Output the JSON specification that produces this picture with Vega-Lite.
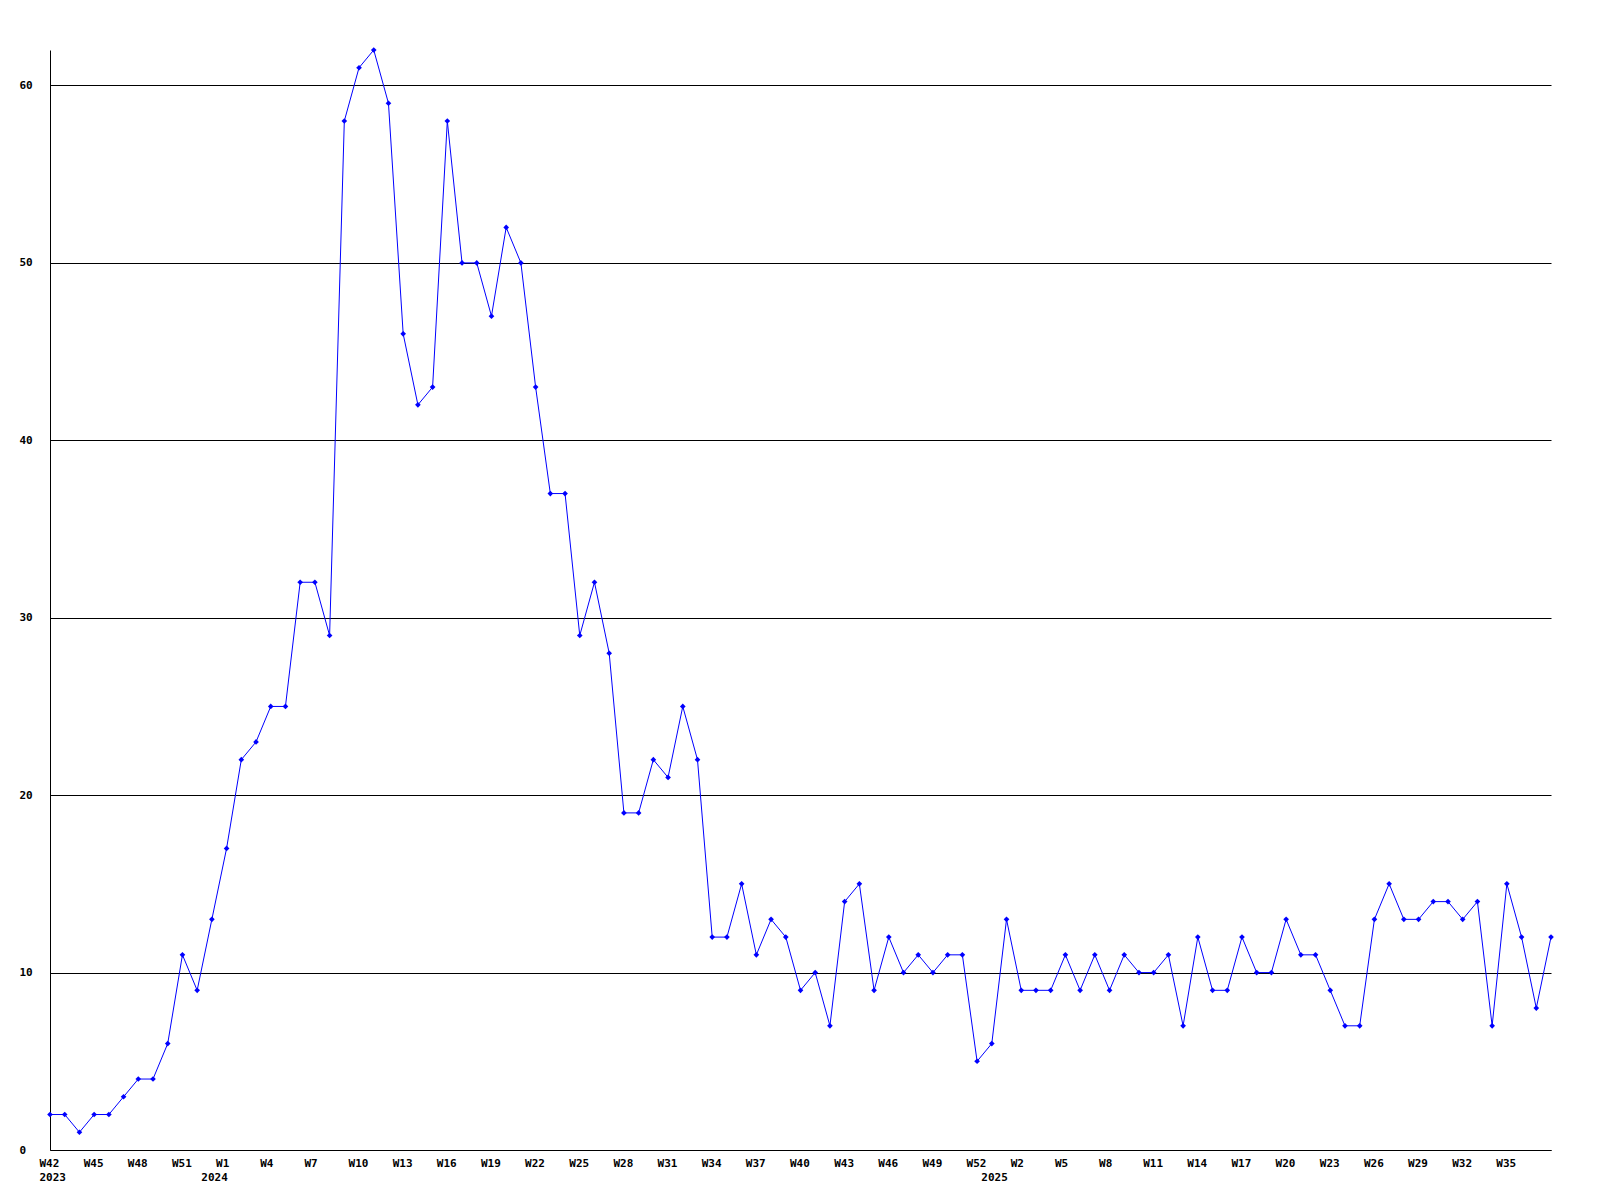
{
  "$schema": "https://vega.github.io/schema/vega-lite/v6.json",
  "autosize": "none",
  "width": 1501,
  "height": 1100,
  "padding": {"left": 50, "top": 50, "right": 49, "bottom": 50},
  "background": "white",
  "config": {"view": {"stroke": null}},
  "data": {"values": [
    {"week": "2023-W42", "count": 2}, {"week": "2023-W43", "count": 2}, {"week": "2023-W44", "count": 1}, {"week": "2023-W45", "count": 2},
    {"week": "2023-W46", "count": 2}, {"week": "2023-W47", "count": 3}, {"week": "2023-W48", "count": 4}, {"week": "2023-W49", "count": 4},
    {"week": "2023-W50", "count": 6}, {"week": "2023-W51", "count": 11}, {"week": "2023-W52", "count": 9},
    {"week": "2024-W0", "count": 13},
    {"week": "2024-W1", "count": 17}, {"week": "2024-W2", "count": 22}, {"week": "2024-W3", "count": 23}, {"week": "2024-W4", "count": 25},
    {"week": "2024-W5", "count": 25}, {"week": "2024-W6", "count": 32}, {"week": "2024-W7", "count": 32}, {"week": "2024-W8", "count": 29},
    {"week": "2024-W9", "count": 58}, {"week": "2024-W10", "count": 61}, {"week": "2024-W11", "count": 62}, {"week": "2024-W12", "count": 59},
    {"week": "2024-W13", "count": 46}, {"week": "2024-W14", "count": 42}, {"week": "2024-W15", "count": 43}, {"week": "2024-W16", "count": 58},
    {"week": "2024-W17", "count": 50}, {"week": "2024-W18", "count": 50}, {"week": "2024-W19", "count": 47}, {"week": "2024-W20", "count": 52},
    {"week": "2024-W21", "count": 50}, {"week": "2024-W22", "count": 43}, {"week": "2024-W23", "count": 37}, {"week": "2024-W24", "count": 37},
    {"week": "2024-W25", "count": 29}, {"week": "2024-W26", "count": 32}, {"week": "2024-W27", "count": 28}, {"week": "2024-W28", "count": 19},
    {"week": "2024-W29", "count": 19}, {"week": "2024-W30", "count": 22}, {"week": "2024-W31", "count": 21}, {"week": "2024-W32", "count": 25},
    {"week": "2024-W33", "count": 22}, {"week": "2024-W34", "count": 12}, {"week": "2024-W35", "count": 12}, {"week": "2024-W36", "count": 15},
    {"week": "2024-W37", "count": 11}, {"week": "2024-W38", "count": 13}, {"week": "2024-W39", "count": 12}, {"week": "2024-W40", "count": 9},
    {"week": "2024-W41", "count": 10}, {"week": "2024-W42", "count": 7}, {"week": "2024-W43", "count": 14}, {"week": "2024-W44", "count": 15},
    {"week": "2024-W45", "count": 9}, {"week": "2024-W46", "count": 12}, {"week": "2024-W47", "count": 10}, {"week": "2024-W48", "count": 11},
    {"week": "2024-W49", "count": 10}, {"week": "2024-W50", "count": 11}, {"week": "2024-W51", "count": 11}, {"week": "2024-W52", "count": 5},
    {"week": "2025-W0", "count": 6},
    {"week": "2025-W1", "count": 13}, {"week": "2025-W2", "count": 9}, {"week": "2025-W3", "count": 9}, {"week": "2025-W4", "count": 9},
    {"week": "2025-W5", "count": 11}, {"week": "2025-W6", "count": 9}, {"week": "2025-W7", "count": 11}, {"week": "2025-W8", "count": 9},
    {"week": "2025-W9", "count": 11}, {"week": "2025-W10", "count": 10}, {"week": "2025-W11", "count": 10}, {"week": "2025-W12", "count": 11},
    {"week": "2025-W13", "count": 7}, {"week": "2025-W14", "count": 12}, {"week": "2025-W15", "count": 9}, {"week": "2025-W16", "count": 9},
    {"week": "2025-W17", "count": 12}, {"week": "2025-W18", "count": 10}, {"week": "2025-W19", "count": 10}, {"week": "2025-W20", "count": 13},
    {"week": "2025-W21", "count": 11}, {"week": "2025-W22", "count": 11}, {"week": "2025-W23", "count": 9}, {"week": "2025-W24", "count": 7},
    {"week": "2025-W25", "count": 7}, {"week": "2025-W26", "count": 13}, {"week": "2025-W27", "count": 15}, {"week": "2025-W28", "count": 13},
    {"week": "2025-W29", "count": 13}, {"week": "2025-W30", "count": 14}, {"week": "2025-W31", "count": 14}, {"week": "2025-W32", "count": 13},
    {"week": "2025-W33", "count": 14}, {"week": "2025-W34", "count": 7}, {"week": "2025-W35", "count": 15}, {"week": "2025-W36", "count": 12},
    {"week": "2025-W37", "count": 8}, {"week": "2025-W38", "count": 12}
  ]},
  "encoding": {
    "x": {
      "field": "week", "type": "ordinal", "sort": null,
      "scale": {"type": "point", "padding": 0},
      "axis": {
        "title": null,
        "values": ["2023-W42", "2023-W45", "2023-W48", "2023-W51", "2024-W0", "2024-W1", "2024-W4", "2024-W7", "2024-W10", "2024-W13", "2024-W16", "2024-W19", "2024-W22", "2024-W25", "2024-W28", "2024-W31", "2024-W34", "2024-W37", "2024-W40", "2024-W43", "2024-W46", "2024-W49", "2024-W52", "2025-W0", "2025-W2", "2025-W5", "2025-W8", "2025-W11", "2025-W14", "2025-W17", "2025-W20", "2025-W23", "2025-W26", "2025-W29", "2025-W32", "2025-W35"],
        "labelExpr": "split(datum.value, '-')[1] == 'W0' ? ['', split(datum.value, '-')[0]] : (datum.value == '2023-W42' ? ['W42', '2023'] : split(datum.value, '-')[1])",
        "labelAngle": 0,
        "labelAlign": "left",
        "labelBaseline": "top",
        "labelOffset": -11,
        "labelPadding": 7,
        "labelLineHeight": 14,
        "labelFont": "DejaVu Sans Mono",
        "labelFontWeight": "bold",
        "labelFontSize": 11,
        "labelColor": "black",
        "labelOverlap": false,
        "labelFlush": false,
        "labelBound": false,
        "ticks": false,
        "grid": false,
        "domainColor": "black",
        "domainWidth": 1
      }
    },
    "y": {
      "field": "count", "type": "quantitative",
      "scale": {"domain": [0, 62], "nice": false, "zero": true},
      "axis": {
        "title": null,
        "values": [0, 10, 20, 30, 40, 50, 60],
        "labelAlign": "left",
        "labelBaseline": "middle",
        "labelPadding": 31,
        "labelFont": "DejaVu Sans Mono",
        "labelFontWeight": "bold",
        "labelFontSize": 11,
        "labelColor": "black",
        "labelFlush": false,
        "labelOverlap": false,
        "ticks": false,
        "grid": true,
        "gridColor": "black",
        "gridOpacity": 1,
        "gridWidth": 1,
        "domainColor": "black",
        "domainWidth": 1
      }
    }
  },
  "layer": [
    {"mark": {"type": "line", "color": "#0000ff", "strokeWidth": 1}},
    {"mark": {"type": "point", "shape": "diamond", "filled": true, "color": "#0000ff", "size": 32, "opacity": 1}}
  ]
}
